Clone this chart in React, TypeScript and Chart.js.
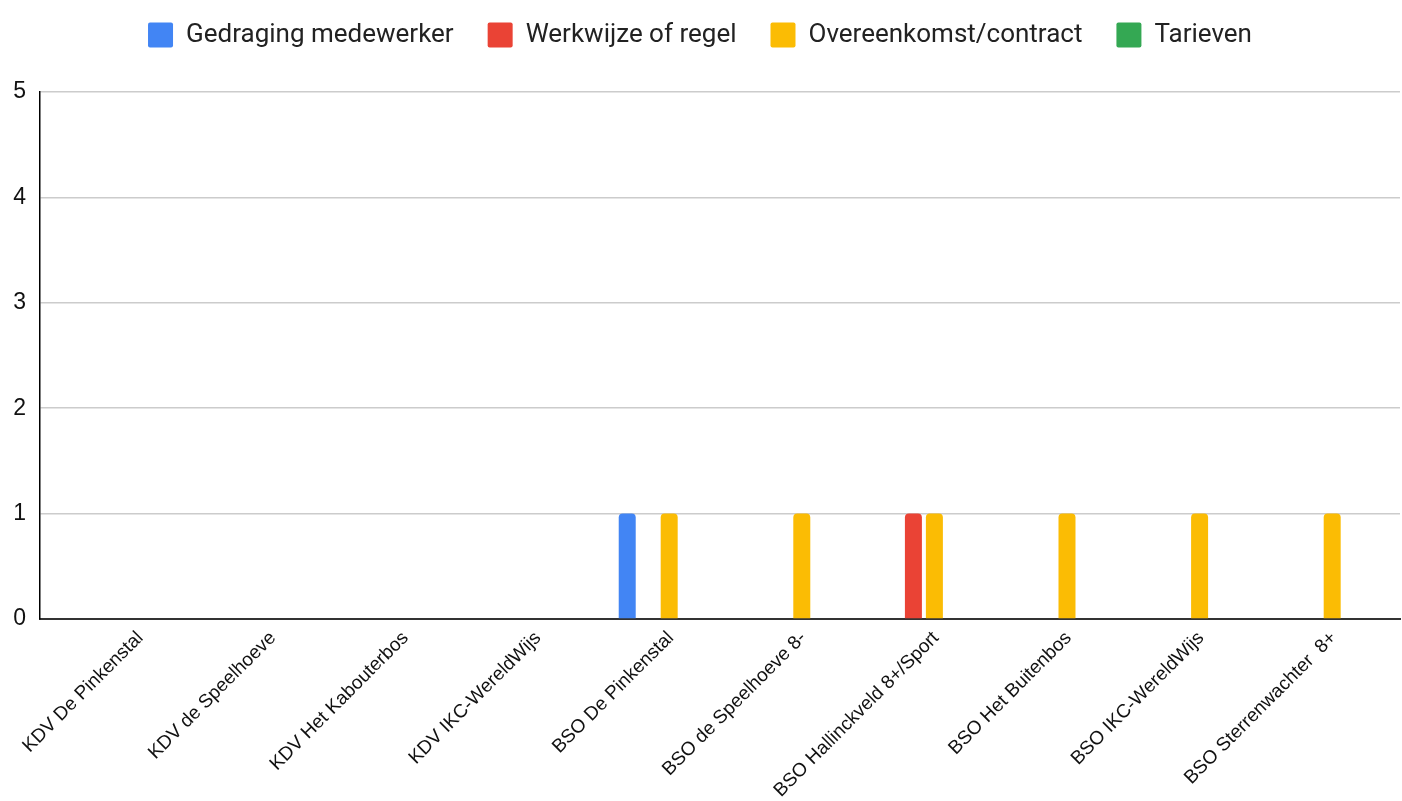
import React, { useEffect, useRef } from "react";
import { Chart, registerables } from "chart.js";

Chart.register(...registerables);

const categories = [
  "KDV De Pinkenstal",
  "KDV de Speelhoeve",
  "KDV Het Kabouterbos",
  "KDV IKC-WereldWijs",
  "BSO De Pinkenstal",
  "BSO de Speelhoeve 8-",
  "BSO Hallinckveld 8+/Sport",
  "BSO Het Buitenbos",
  "BSO IKC-WereldWijs",
  "BSO Sterrenwachter  8+",
];
const seriesNames = [
  "Gedraging medewerker",
  "Werkwijze of regel",
  "Overeenkomst/contract",
  "Tarieven",
];
const gedragingMedewerker = [0, 0, 0, 0, 1, 0, 0, 0, 0, 0];
const werkwijzeOfRegel = [0, 0, 0, 0, 0, 0, 1, 0, 0, 0];
const overeenkomstContract = [0, 0, 0, 0, 1, 1, 1, 1, 1, 1];
const tarieven = [0, 0, 0, 0, 0, 0, 0, 0, 0, 0];
const yMin = 0;
const yMax = 5;
const yStep = 1;
const seriesColors = ["#4285F4", "#EA4335", "#FBBC04", "#34A853"];

const layoutPlugin = {
  id: "layoutTweaks",
  beforeInit(chart: any) {
    const legend = chart.legend;
    if (legend) {
      const origFit = legend.fit;
      legend.fit = function () {
        origFit.call(this);
        this.height += 34;
      };
    }
  },
  afterLayout(chart: any) {
    const xs = chart.scales.x;
    const ca = chart.chartArea;
    if (xs && ca) {
      xs._startPixel = ca.left + 22;
      xs._endPixel = ca.right - 12;
      xs._length = xs._endPixel - xs._startPixel;
    }
  },
};

export default function App() {
  const canvasRef = useRef<HTMLCanvasElement | null>(null);

  useEffect(() => {
    if (!canvasRef.current) return;
    const seriesValues = [gedragingMedewerker, werkwijzeOfRegel, overeenkomstContract, tarieven];
    const chart = new Chart(canvasRef.current, {
      type: "bar",
      data: {
        labels: categories,
        datasets: seriesNames.map((name, i) => ({
          label: name,
          data: seriesValues[i],
          backgroundColor: seriesColors[i],
          borderColor: seriesColors[i],
          borderWidth: 0,
          borderRadius: 4,
          categoryPercentage: 0.633,
          barPercentage: 0.81,
        })),
      },
      plugins: [layoutPlugin],
      options: {
        animation: false,
        responsive: true,
        maintainAspectRatio: false,
        layout: { padding: { top: -12, right: 2, left: 0, bottom: 0 } },
        plugins: {
          legend: {
            position: "top",
            align: "center",
            labels: {
              boxWidth: 25,
              boxHeight: 25,
              padding: 34,
              useBorderRadius: true,
              borderRadius: 2,
              color: "#222",
              font: { family: "Roboto", size: 26 },
            },
          },
          tooltip: { enabled: false },
        },
        scales: {
          x: {
            offset: true,
            grid: { display: false, drawTicks: false },
            border: { display: true, color: "#333", width: 2 },
            ticks: {
              autoSkip: false,
              maxRotation: 45,
              minRotation: 45,
              padding: 8,
              labelOffset: 12,
              color: "#111",
              font: { family: "'Liberation Sans', Arial, sans-serif", size: 19 },
            },
            afterFit: (s: any) => {
              s.height = 182;
              s.paddingLeft = 0;
              s.paddingRight = 0;
            },
          },
          y: {
            min: yMin,
            max: yMax,
            ticks: {
              stepSize: yStep,
              padding: 14,
              color: "#111",
              font: { family: "'Liberation Sans', Arial, sans-serif", size: 23 },
            },
            grid: { color: "#cccccc", lineWidth: 1.5, drawTicks: false },
            border: { display: true, color: "#000", width: 1.5 },
            afterFit: (s: any) => {
              s.width = 40;
            },
          },
        },
      },
    } as any);
    return () => chart.destroy();
  }, []);

  return (
    <div style={{ position: "fixed", left: 0, top: 0, width: 1402, height: 801, background: "#fff" }}>
      <canvas ref={canvasRef} />
    </div>
  );
}
